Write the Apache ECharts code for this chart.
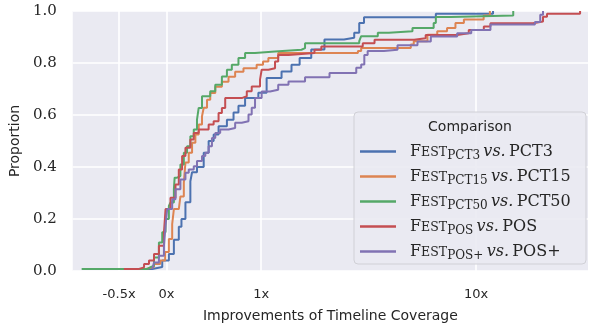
<!DOCTYPE html>
<html>
<head>
<meta charset="utf-8">
<script src="https://cdn.jsdelivr.net/npm/echarts@6/dist/echarts.min.js"></script>
<style>
  html, body { margin: 0; padding: 0; background: #fff; }
  #chart { width: 589px; height: 328px; }
</style>
</head>
<body>
<div id="chart"></div>
<script>
// tick labels on the symlog x axis
const xTickValues = [-0.5, 0, 1, 10];
const xTickLabels = ['-0.5x', '0x', '1x', '10x'];

const seriesNames = ['PCT3', 'PCT15', 'PCT50', 'POS', 'POS+'];
const seriesColors = ['#4C72B0', '#DD8452', '#55A868', '#C44E52', '#8172B3'];

// ECDF break points (improvement, proportion)
const pct3X = [-0.22, -0.15, -0.045, 0.025, 0.078, 0.13, 0.158, 0.2, 0.252, 0.27, 0.322, 0.393, 0.445, 0.498, 0.55, 0.638, 0.708, 0.76, 0.83, 0.97, 1.06, 1.244, 1.384, 1.51, 1.71, 1.97, 2.43, 2.71, 2.86, 3.01, 6.5, 12.0];
const pct3Y = [0.008, 0.015, 0.04, 0.065, 0.12, 0.17, 0.2, 0.264, 0.345, 0.38, 0.40, 0.455, 0.5, 0.525, 0.557, 0.582, 0.61, 0.636, 0.665, 0.686, 0.742, 0.767, 0.793, 0.819, 0.852, 0.89, 0.897, 0.916, 0.954, 0.976, 0.989, 1.0];

const pct15X = [-0.853, -0.22, -0.132, -0.066, -0.014, 0.025, 0.06, 0.078, 0.13, 0.147, 0.183, 0.2, 0.235, 0.27, 0.305, 0.34, 0.375, 0.393, 0.428, 0.462, 0.515, 0.585, 0.655, 0.725, 0.813, 0.952, 1.02, 1.08, 1.2, 2.82, 2.92, 4.97, 5.13, 5.94, 6.6, 7.33, 8.02, 8.78, 10.85, 11.6];
const pct15Y = [0.008, 0.015, 0.027, 0.04, 0.073, 0.123, 0.18, 0.238, 0.245, 0.287, 0.34, 0.417, 0.455, 0.493, 0.525, 0.563, 0.595, 0.628, 0.659, 0.685, 0.709, 0.728, 0.747, 0.766, 0.78, 0.793, 0.806, 0.819, 0.838, 0.846, 0.858, 0.871, 0.884, 0.909, 0.922, 0.935, 0.954, 0.967, 0.983, 1.0];

const pct50X = [-0.896, -0.2, -0.168, -0.132, -0.08, -0.045, -0.01, 0.025, 0.042, 0.078, 0.086, 0.112, 0.147, 0.183, 0.217, 0.252, 0.288, 0.322, 0.34, 0.375, 0.462, 0.515, 0.585, 0.638, 0.69, 0.76, 0.83, 0.935, 1.16, 1.54, 1.6, 2.86, 2.92, 3.49, 3.93, 5.06, 6.35, 6.5, 7.64, 14.9];
const pct50Y = [0.008, 0.015, 0.02, 0.052, 0.11, 0.149, 0.2, 0.25, 0.263, 0.314, 0.359, 0.365, 0.41, 0.455, 0.48, 0.518, 0.544, 0.582, 0.627, 0.672, 0.691, 0.716, 0.748, 0.774, 0.793, 0.819, 0.838, 0.844, 0.851, 0.857, 0.876, 0.884, 0.903, 0.916, 0.922, 0.935, 0.954, 0.977, 0.983, 1.0];

const posX = [-0.45, -0.29, -0.237, -0.185, -0.132, -0.08, -0.027, -0.01, 0.042, 0.095, 0.13, 0.165, 0.2, 0.252, 0.288, 0.34, 0.445, 0.498, 0.55, 0.585, 0.62, 0.795, 0.848, 0.9, 0.988, 1.005, 1.08, 1.16, 1.2, 1.34, 1.77, 1.905, 2.97, 3.37, 5.15, 5.83, 8.17, 9.25, 10.87, 11.67, 18.4, 20.5, 21.4, 30.5];
const posY = [0.008, 0.014, 0.027, 0.04, 0.065, 0.097, 0.148, 0.238, 0.282, 0.333, 0.39, 0.442, 0.474, 0.506, 0.531, 0.544, 0.563, 0.576, 0.608, 0.627, 0.665, 0.672, 0.691, 0.71, 0.736, 0.774, 0.78, 0.806, 0.831, 0.838, 0.851, 0.863, 0.876, 0.889, 0.895, 0.908, 0.914, 0.927, 0.94, 0.953, 0.96, 0.978, 0.989, 1.0];

const posPlusX = [-0.15, -0.132, -0.08, -0.027, -0.01, 0.007, 0.06, 0.095, 0.147, 0.2, 0.235, 0.288, 0.322, 0.375, 0.41, 0.445, 0.48, 0.515, 0.567, 0.655, 0.725, 0.795, 0.866, 0.9, 0.935, 1.005, 1.1, 1.2, 1.34, 1.6, 2.08, 2.77, 2.92, 3.02, 3.13, 3.73, 4.31, 5.34, 6.16, 8.17, 9.5, 11.67, 18.8, 19.9, 20.5];
const posPlusY = [0.008, 0.033, 0.059, 0.097, 0.174, 0.238, 0.276, 0.314, 0.352, 0.378, 0.39, 0.403, 0.423, 0.442, 0.455, 0.48, 0.512, 0.531, 0.544, 0.55, 0.57, 0.576, 0.602, 0.628, 0.665, 0.69, 0.697, 0.716, 0.729, 0.745, 0.762, 0.782, 0.794, 0.831, 0.846, 0.851, 0.868, 0.883, 0.902, 0.914, 0.927, 0.948, 0.958, 0.986, 1.0];

const seriesX = [pct3X, pct15X, pct50X, posX, posPlusX];
const seriesY = [pct3Y, pct15Y, pct50Y, posY, posPlusY];

// symlog: linear inside [-1, 1], log10 outside (one decade = DECADE linear units)
const DECADE = 2.269;
function symlog(v) {
    const a = Math.abs(v);
    return a <= 1 ? v : Math.sign(v) * (1 + DECADE * Math.log10(a));
}

const tickPos = xTickValues.map(symlog);
const ink = '#262626';
const sans = 'DejaVu Sans';
const serif = 'DejaVu Serif';

const chart = echarts.init(document.getElementById('chart'), null, { renderer: 'canvas' });

const series = seriesNames.map((name, i) => ({
    name: name,
    type: 'line',
    step: 'end',
    showSymbol: false,
    symbol: 'none',
    color: seriesColors[i],
    lineStyle: { width: 2, color: seriesColors[i] },
    data: seriesX[i].map((x, j) => [symlog(x), seriesY[i][j]])
}));

const option = {
    animation: false,
    backgroundColor: '#fff',
    grid: {
        left: 70, right: 1, top: 11, bottom: 56,
        show: true, backgroundColor: '#EAEAF2', borderWidth: 0
    },
    xAxis: {
        type: 'value',
        min: symlog(-0.99),
        max: symlog(33.2),
        name: 'Improvements of Timeline Coverage',
        nameLocation: 'middle',
        nameGap: 38,
        nameTextStyle: { fontFamily: sans, fontSize: 14, color: ink },
        axisLine: { show: false },
        axisTick: { show: false, customValues: tickPos },
        axisLabel: {
            customValues: tickPos,
            margin: 17,
            fontFamily: sans, fontSize: 13, color: ink,
            formatter: v => {
                const i = tickPos.findIndex(t => Math.abs(t - v) < 1e-6);
                return i >= 0 ? xTickLabels[i] : '';
            }
        },
        splitLine: { show: true, lineStyle: { color: '#fff', width: 1.6 } }
    },
    yAxis: {
        type: 'value',
        min: 0, max: 1, interval: 0.2,
        name: 'Proportion',
        nameLocation: 'middle',
        nameGap: 47,
        nameTextStyle: { fontFamily: sans, fontSize: 14, color: ink },
        axisLine: { show: false },
        axisTick: { show: false },
        axisLabel: {
            margin: 16,
            fontFamily: serif, fontSize: 15, color: ink,
            formatter: v => v.toFixed(1)
        },
        splitLine: { show: true, lineStyle: { color: '#fff', width: 1.6 } }
    },
    graphic: [
        {
            type: 'rect', z: 5,
            shape: { x: 354, y: 112, width: 232, height: 152, r: 4 },
            style: { fill: 'rgba(234,234,242,0.9)', stroke: '#d0d0d6', lineWidth: 1 }
        },
        {
            type: 'text', z: 6,
            x: 470, y: 127,
            style: {
                text: 'Comparison', fill: ink,
                font: '14px "DejaVu Sans"',
                textAlign: 'center', textVerticalAlign: 'middle'
            }
        }
    ],
    legend: {
        orient: 'vertical',
        left: 360, top: 141,
        padding: 0,
        z: 10,
        itemWidth: 36, itemHeight: 2.5,
        itemGap: 4,
        icon: 'rect',
        data: seriesNames,
        formatter: name => `{g|}{f|F}{sc|EST}{sub|${name}} {it|vs.} {rm|${name}}`,
        textStyle: {
            color: ink,
            rich: {
                g: { width: 9, lineHeight: 20 },
                f: { fontFamily: serif, fontSize: 16, lineHeight: 20, color: ink },
                sc: { fontFamily: serif, fontSize: 12.5, lineHeight: 20, padding: [2, 0, 0, 0], color: ink },
                sub: { fontFamily: serif, fontSize: 12, lineHeight: 20, padding: [9, 0, 0, 0], color: ink },
                it: { fontFamily: serif, fontStyle: 'italic', fontSize: 16, lineHeight: 20, color: ink },
                rm: { fontFamily: serif, fontSize: 16, lineHeight: 20, color: ink }
            }
        }
    },
    series: series
};

chart.setOption(option);
</script>
</body>
</html>
